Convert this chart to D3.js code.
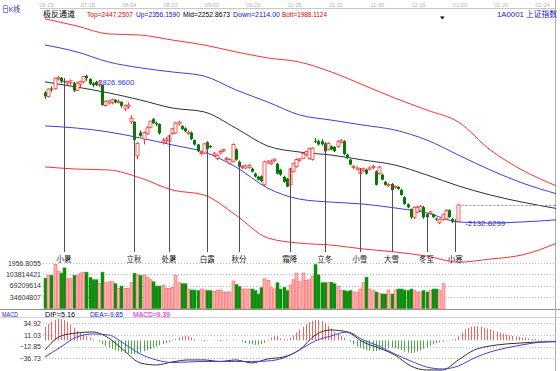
<!DOCTYPE html>
<html>
<head>
<meta charset="utf-8">
<script src="https://cdn.jsdelivr.net/npm/d3@7"></script>
<style>
body { margin: 0; background: #fff; }
svg { display: block; font-family: "Liberation Sans", "Noto Sans CJK SC", sans-serif; }
</style>
</head>
<body>
<svg width="560" height="371"></svg>
<script>
// daily candles, 2011-06-29 .. 2012-01-09
const dates = ["06-29","06-30","07-01","07-04","07-05","07-06","07-07","07-08","07-11","07-12","07-13","07-14","07-15","07-18","07-19","07-20","07-21","07-22","07-25","07-26","07-27","07-28","07-29","08-01","08-02","08-03","08-04","08-05","08-08","08-09","08-10","08-11","08-12","08-15","08-16","08-17","08-18","08-19","08-22","08-23","08-24","08-25","08-26","08-29","08-30","08-31","09-01","09-02","09-05","09-06","09-07","09-08","09-09","09-13","09-14","09-15","09-16","09-19","09-20","09-21","09-22","09-23","09-26","09-27","09-28","09-29","09-30","10-10","10-11","10-12","10-13","10-14","10-17","10-18","10-19","10-20","10-21","10-24","10-25","10-26","10-27","10-28","10-31","11-01","11-02","11-03","11-04","11-07","11-08","11-09","11-10","11-11","11-14","11-15","11-16","11-17","11-18","11-21","11-22","11-23","11-24","11-25","11-28","11-29","11-30","12-01","12-02","12-05","12-06","12-07","12-08","12-09","12-12","12-13","12-14","12-15","12-16","12-19","12-20","12-21","12-22","12-23","12-26","12-27","12-28","12-29","12-30","01-04","01-05","01-06","01-09"]

const open = [2746,2727,2764,2763,2810,2814,2800,2790,2792,2790,2756,2785,2795,2822,2808,2788,2795,2778,2780,2685,2698,2700,2712,2700,2702,2670,2680,2610,2610,2452,2560,2530,2555,2585,2622,2605,2600,2515,2522,2520,2555,2558,2600,2590,2580,2556,2560,2525,2505,2462,2465,2515,2498,2455,2440,2465,2475,2435,2418,2426,2482,2425,2398,2396,2398,2393,2370,2356,2358,2318,2420,2416,2430,2416,2388,2355,2346,2318,2380,2402,2432,2440,2458,2440,2436,2522,2520,2520,2510,2482,2496,2494,2496,2515,2520,2458,2435,2398,2390,2370,2385,2388,2390,2398,2380,2370,2365,2332,2314,2322,2305,2308,2294,2261,2228,2205,2168,2192,2200,2215,2182,2186,2182,2162,2142,2158,2160,2200,2160,2150,2148]
const high = [2752,2765,2775,2815,2822,2818,2812,2800,2806,2795,2796,2800,2822,2826.96,2812,2795,2800,2800,2782,2710,2712,2718,2715,2715,2705,2690,2700,2640,2612,2515,2570,2565,2590,2615,2628,2612,2603,2535,2540,2550,2582,2610,2615,2596,2585,2570,2565,2528,2508,2475,2512,2520,2502,2470,2460,2478,2485,2448,2440,2510,2488,2430,2410,2412,2415,2398,2375,2360,2362,2430,2432,2435,2440,2420,2392,2360,2350,2395,2420,2440,2442,2468,2475,2490,2492,2535,2528,2530,2515,2515,2500,2498,2525,2530,2525,2462,2438,2410,2402,2395,2398,2392,2402,2410,2385,2405,2370,2336,2325,2326,2315,2312,2298,2265,2232,2208,2218,2222,2225,2220,2186,2198,2185,2166,2162,2185,2205,2205,2165,2158,2228]
const low = [2716,2722,2749,2760,2801,2790,2781,2780,2778,2748,2752,2770,2790,2800,2780,2770,2775,2772,2685,2680,2690,2690,2695,2695,2675,2660,2670,2600,2520,2437,2540,2505,2550,2580,2600,2590,2550,2505,2510,2515,2550,2555,2592,2572,2562,2550,2525,2500,2470,2455,2460,2480,2488,2448,2432,2460,2470,2430,2412,2422,2430,2398,2390,2390,2392,2375,2352,2338,2330,2310,2415,2410,2425,2365,2360,2328,2307,2315,2375,2398,2425,2438,2452,2435,2430,2512,2500,2500,2468,2478,2478,2470,2490,2510,2455,2438,2408,2390,2385,2365,2378,2365,2385,2390,2315,2365,2338,2315,2308,2290,2300,2295,2268,2225,2210,2160,2160,2188,2195,2160,2162,2180,2165,2152,2136,2150,2155,2165,2140,2132.6299,2145]
const close = [2728,2762,2759,2812,2814,2796,2795,2797,2800,2755,2790,2796,2820,2812,2786,2779,2781,2795,2688,2705,2708,2712,2701,2704,2684,2685,2688,2626,2526,2510,2545,2560,2582,2613,2604,2598,2557,2522,2530,2545,2578,2605,2608,2577,2566,2562,2530,2505,2474,2468,2508,2485,2494,2462,2455,2472,2482,2440,2435,2505,2435,2402,2404,2406,2408,2379,2356,2342,2336,2425,2428,2425,2437,2370,2365,2332,2310,2392,2416,2435,2438,2463,2472,2487,2488,2518,2505,2506,2473,2510,2482,2474,2520,2522,2460,2442,2412,2404,2396,2392,2393,2370,2396,2404,2318,2400,2342,2318,2320,2294,2310,2299,2271,2229,2214,2168,2214,2214,2218,2168,2168,2192,2168,2158,2158,2182,2200,2169,2148,2146,2225]
const volume = [92,100,100,133,113,107,123,90,90,100,100,107,110,110,94,87,87,75,110,78,81,81,75,61,68,61,61,78,107,102,100,100,94,87,81,68,68,70,61,61,64,100,78,75,75,59,56,56,54,59,56,54,54,52,56,56,50,50,50,83,73,66,59,59,59,59,54,44,63,90,85,63,59,78,59,64,54,71,87,107,81,107,85,87,97,133,102,78,78,78,80,75,68,54,54,52,54,50,50,59,78,95,59,54,50,45,44,44,56,44,56,59,59,56,54,59,54,50,50,54,50,54,59,59,54,75].map(v => v * 1e6)

// channel lines, read every 10 bars (last points are the projection)
const bandIdx = [0,10,20,30,40,50,60,70,80,90,100,110,120,130,140,150,161]
const bandTop = [3087,3054,3017,3012,2989,2966,2934,2906,2887,2841,2781,2720,2665,2609,2480,2387,2312]
const bandUp = [2966,2934,2887,2860,2841,2822,2758,2702,2642,2618,2595,2572,2526,2456,2387,2327,2276]
const bandMid = [2795,2771,2744,2711,2674,2656,2581,2498,2470,2456,2433,2410,2364,2313,2271,2238,2208]
const bandDown = [2591,2581,2563,2535,2503,2470,2401,2303,2252,2238,2229,2211,2188,2146,2141,2146,2156]
const bandBott = [2401,2391,2387,2350,2294,2271,2178,2072,2048,2039,2021,2007,1988,1960,1974,1993,2048]

// MACD
const macdIdx = [0,5,10,15,20,25,30,35,40,45,50,55,60,65,70,75,80,85,90,95,100,105,110,115,120,125,130,135,140,145,150,155,161]
const dif = [-19.7,9.0,15.1,17.2,4.9,-21.7,-46.3,-50.4,-44.2,-40.1,-40.1,-43.2,-40.1,-46.3,-38.1,-34,-19.7,11.0,21.3,17.2,-3.3,-15.6,-29.9,-52.4,-60.6,-60.6,-40.1,-19.7,-11.5,-7.4,-5.3,-3.3,-2.7]
const dea = [-34,-13.5,6.9,13.1,11.0,-7.4,-27.9,-40.1,-45.3,-44.2,-43.2,-43.2,-43.2,-43.2,-42.2,-36,-19.7,-1.2,9.0,17.2,0.8,-11.5,-27.9,-42.2,-54.5,-58.6,-52.4,-36,-23.8,-15.6,-9.4,-4.3,-2.2]
const macdBar = [28,33,38,42,44,44,42,38,32,26,20,16,12,9,6,3,
  0,-3,-8,-12,-15,-18,-20,-22,-24,-26,-27,-28,-28,-27,-25,-22,-20,-18,-15,-13,-10,-8,-6,-3,-1,
  3,6,8,9,8,6,3,
  1,-1,-2,-1,0,1,-1,-2,1,2,0,-1,1,0,
  -3,-5,-7,-8,-9,-9,-8,-5,
  2,6,9,8,
  4,3,2,5,10,16,22,28,33,37,40,42,42,40,36,30,24,18,13,9,5,1,
  -3,-8,-12,-15,-18,-20,-21,-22,-22,-20,-18,-17,-16,-15,-16,-18,-20,-23,-25,-26,-25,-23,-20,-17,-14,-11,-8,-6,-4,-3,-1,1,2,3,
  8,16,22,26,28,29,29,28,26,24,22,20,18,16,14,12,10,9,8,7,6,5,4,3,3,2,2,1,1,1,1]

const termNames = ["小暑","立秋","处暑","白露","秋分","霜降","立冬","小雪","大雪","冬至","小寒"]
const termIdx = [6,28,39,51,61,77,88,99,109,120,129]
const dateTicks = ["06-29","07-18","08-04","08-23","09-09","09-29","10-25","11-11","11-30","12-19","01-09","01-26","02-14"]
const volTicks = [34604807, 69209614, 103814421]
const macdTicks = [34.92, 11.03, -12.85, -36.73]

const svg = d3.select("svg")

const x = d3.scaleLinear().domain([0, 130]).range([45, 458.4])
const y = d3.scaleLinear().domain([1956.8055, 3128]).range([262.8, 10])
const yVol = d3.scaleLinear().domain([0, 138419228]).range([308.5, 262.8])
const yMacd = d3.scaleLinear().domain([-36.73, 34.92]).range([358.3, 323.3])

const defs = svg.append("defs")
defs.append("clipPath").attr("id", "clipMain").append("rect")
  .attr("x", 43).attr("y", 9).attr("width", 513).attr("height", 300)
defs.append("clipPath").attr("id", "clipMacd").append("rect")
  .attr("x", 43).attr("y", 318).attr("width", 513).attr("height", 53)

// frame lines
svg.append("line").attr("x1", 40).attr("x2", 556).attr("y1", 8.5).attr("y2", 8.5).attr("stroke", "#c8c8c8")
svg.append("line").attr("x1", 0).attr("x2", 560).attr("y1", 309.5).attr("y2", 309.5).attr("stroke", "#909090")
svg.append("line").attr("x1", 0).attr("x2", 560).attr("y1", 317.5).attr("y2", 317.5).attr("stroke", "#d0d0d0")
svg.append("line").attr("x1", 555.5).attr("x2", 555.5).attr("y1", 0).attr("y2", 371).attr("stroke", "#b0b0b0")

// top date axis
const dateAxis = svg.append("g").attr("transform", "translate(1,8)")
  .call(d3.axisTop(x).tickValues(d3.range(0, 157, 13)).tickSize(0).tickPadding(1)
    .tickFormat((d, i) => dateTicks[i]))
dateAxis.select(".domain").remove()
dateAxis.selectAll("text").attr("font-size", 5.5).attr("fill", "#b4b4b4").attr("font-family", "Liberation Sans")

// header texts
const header = [
  {t: "日K线", x: 2, y: 12, c: "#2a2ad0", s: 7.5, w: 18},
  {t: "极反通道", x: 43, y: 17, c: "#000", s: 8, w: 32},
  {t: "Top=2447.2507", x: 87, y: 16.5, c: "#e00000", s: 7, w: 46},
  {t: "Up=2356.1590", x: 136, y: 16.5, c: "#1010e0", s: 7, w: 44},
  {t: "Mid=2252.8673", x: 183, y: 16.5, c: "#000", s: 7, w: 47},
  {t: "Down=2114.00", x: 233, y: 16.5, c: "#1010e0", s: 7, w: 47},
  {t: "Bott=1988.1124", x: 282, y: 16.5, c: "#e00000", s: 7, w: 45},
  {t: "1A0001 上证指数", x: 497, y: 16.5, c: "#1a1acc", s: 8, w: 60}
]
svg.selectAll("text.hdr").data(header).enter().append("text").attr("class", "hdr")
  .attr("x", d => d.x).attr("y", d => d.y).attr("fill", d => d.c)
  .attr("font-size", d => d.s).attr("textLength", d => d.w).attr("lengthAdjust", "spacingAndGlyphs")
  .text(d => d.t)

// cursor marker
svg.append("path").attr("d", "M440,16.5L444.5,16.5L442.25,19.5Z").attr("fill", "#000")

// grid lines
const grid = svg.append("g").attr("stroke", "#b8b8b8").attr("stroke-dasharray", "1,2")
grid.selectAll("line.v").data([138419228].concat(volTicks)).enter().append("line")
  .attr("x1", 43).attr("x2", 555).attr("y1", d => Math.round(yVol(d)) + 0.5).attr("y2", d => Math.round(yVol(d)) + 0.5)
grid.selectAll("line.m").data(macdTicks).enter().append("line")
  .attr("x1", 43).attr("x2", 555).attr("y1", d => Math.round(yMacd(d)) + 0.5).attr("y2", d => Math.round(yMacd(d)) + 0.5)

// left axes
const axisFont = g => {
  g.select(".domain").remove()
  g.selectAll("text").attr("font-size", 7).attr("fill", "#333").attr("font-family", "Liberation Sans")
}
svg.append("g").attr("transform", "translate(42,0)")
  .call(d3.axisLeft(y).tickValues([1956.8055]).tickSize(0).tickPadding(1).tickFormat(d3.format(".4f")))
  .call(axisFont)
svg.append("g").attr("transform", "translate(42,0)")
  .call(d3.axisLeft(yVol).tickValues(volTicks).tickSize(0).tickPadding(1).tickFormat(d3.format("d")))
  .call(axisFont)
svg.append("g").attr("transform", "translate(42,0)")
  .call(d3.axisLeft(yMacd).tickValues(macdTicks).tickSize(0).tickPadding(1).tickFormat(d3.format(".2f")))
  .call(axisFont)

// channel lines
const main = svg.append("g").attr("clip-path", "url(#clipMain)")
const bandLine = d3.line().x((d, i) => x(bandIdx[i])).y(d => y(d)).curve(d3.curveMonotoneX)
const bands = [[bandTop, "#ff3030"], [bandUp, "#3c3cf0"], [bandMid, "#303030"], [bandDown, "#3c3cf0"], [bandBott, "#ff3030"]]
bands.forEach(b => {
  main.append("path").attr("d", bandLine(b[0])).attr("fill", "none").attr("stroke", b[1]).attr("stroke-width", 1)
})

// solar term markers
termIdx.forEach((t, k) => {
  svg.append("line").attr("x1", Math.round(x(t)) + 0.5).attr("x2", Math.round(x(t)) + 0.5)
    .attr("y1", y(high[t])).attr("y2", 252).attr("stroke", "#505050")
  svg.append("text").attr("x", x(t)).attr("y", 261.5).attr("text-anchor", "middle")
    .attr("font-size", 7.5).attr("fill", "#111").text(termNames[k])
})

// candles
const up = i => close[i] >= open[i]
const candle = main.selectAll("g.c").data(dates).enter().append("g").attr("class", "c")
candle.append("line")
  .attr("x1", (d, i) => Math.round(x(i)) + 0.5).attr("x2", (d, i) => Math.round(x(i)) + 0.5)
  .attr("y1", (d, i) => y(high[i])).attr("y2", (d, i) => y(low[i]))
  .attr("stroke", (d, i) => up(i) ? "#ff3030" : "#007a00")
candle.append("rect")
  .attr("x", (d, i) => Math.round(x(i)) - 1)
  .attr("y", (d, i) => y(Math.max(open[i], close[i])))
  .attr("width", 3)
  .attr("height", (d, i) => Math.max(1, y(Math.min(open[i], close[i])) - y(Math.max(open[i], close[i]))))
  .attr("fill", (d, i) => up(i) ? "#fff" : "#007a00")
  .attr("stroke", (d, i) => up(i) ? "#ff3030" : "#007a00")
  .attr("stroke-width", (d, i) => up(i) ? 0.8 : 0)

// last price line and extreme labels
main.append("line").attr("x1", x(130) + 3).attr("x2", 555).attr("y1", Math.round(y(close[130])) + 0.5)
  .attr("y2", Math.round(y(close[130])) + 0.5).attr("stroke", "#909090").attr("stroke-dasharray", "2,2")
const hiIdx = d3.maxIndex(high), loIdx = d3.minIndex(low)
svg.append("text").attr("x", x(hiIdx) + 12).attr("y", y(high[hiIdx]) + 10).attr("fill", "#3434d8")
  .attr("font-size", 7.5).attr("textLength", 36).attr("lengthAdjust", "spacingAndGlyphs")
  .text(d3.format(".4f")(high[hiIdx]))
svg.append("text").attr("x", x(loIdx) + 10).attr("y", y(low[loIdx]) + 1).attr("fill", "#3434d8")
  .attr("font-size", 7.5).attr("textLength", 40).attr("lengthAdjust", "spacingAndGlyphs")
  .text("-" + d3.format(".4f")(low[loIdx]))

// volume
svg.append("g").selectAll("rect").data(volume).enter().append("rect")
  .attr("x", (d, i) => Math.round(x(i)) - 1)
  .attr("y", d => yVol(d))
  .attr("width", 3)
  .attr("height", d => yVol(0) - yVol(d))
  .attr("fill", (d, i) => up(i) ? "#ffb4b4" : "#0a8a0a")
  .attr("stroke", (d, i) => up(i) ? "#ff5a5a" : "#2aa02a")
  .attr("stroke-width", 0.6)

// MACD panel
const macdHead = [
  {t: "MACD", x: 2, c: "#2020c0", w: 16},
  {t: "DIF=5.16", x: 45, c: "#000", w: 30},
  {t: "DEA=-9.85", x: 90, c: "#2020e0", w: 33},
  {t: "MACD=9.39", x: 133, c: "#e000e0", w: 37}
]
svg.selectAll("text.mh").data(macdHead).enter().append("text").attr("class", "mh")
  .attr("x", d => d.x).attr("y", 316.5).attr("fill", d => d.c).attr("font-size", 7)
  .attr("textLength", d => d.w).attr("lengthAdjust", "spacingAndGlyphs").text(d => d.t)

const macdG = svg.append("g").attr("clip-path", "url(#clipMacd)")
macdG.selectAll("line.h").data(macdBar).enter().append("line")
  .attr("x1", (d, i) => Math.round(x(i)) + 0.5).attr("x2", (d, i) => Math.round(x(i)) + 0.5)
  .attr("y1", yMacd(0)).attr("y2", d => yMacd(d))
  .attr("stroke", d => d >= 0 ? "#f06464" : "#4aa84a")
const macdLine = d3.line().x((d, i) => x(macdIdx[i])).y(d => yMacd(d)).curve(d3.curveMonotoneX)
macdG.append("path").attr("d", macdLine(dif)).attr("fill", "none").attr("stroke", "#303030")
macdG.append("path").attr("d", macdLine(dea)).attr("fill", "none").attr("stroke", "#4040e0")
</script>
</body>
</html>
